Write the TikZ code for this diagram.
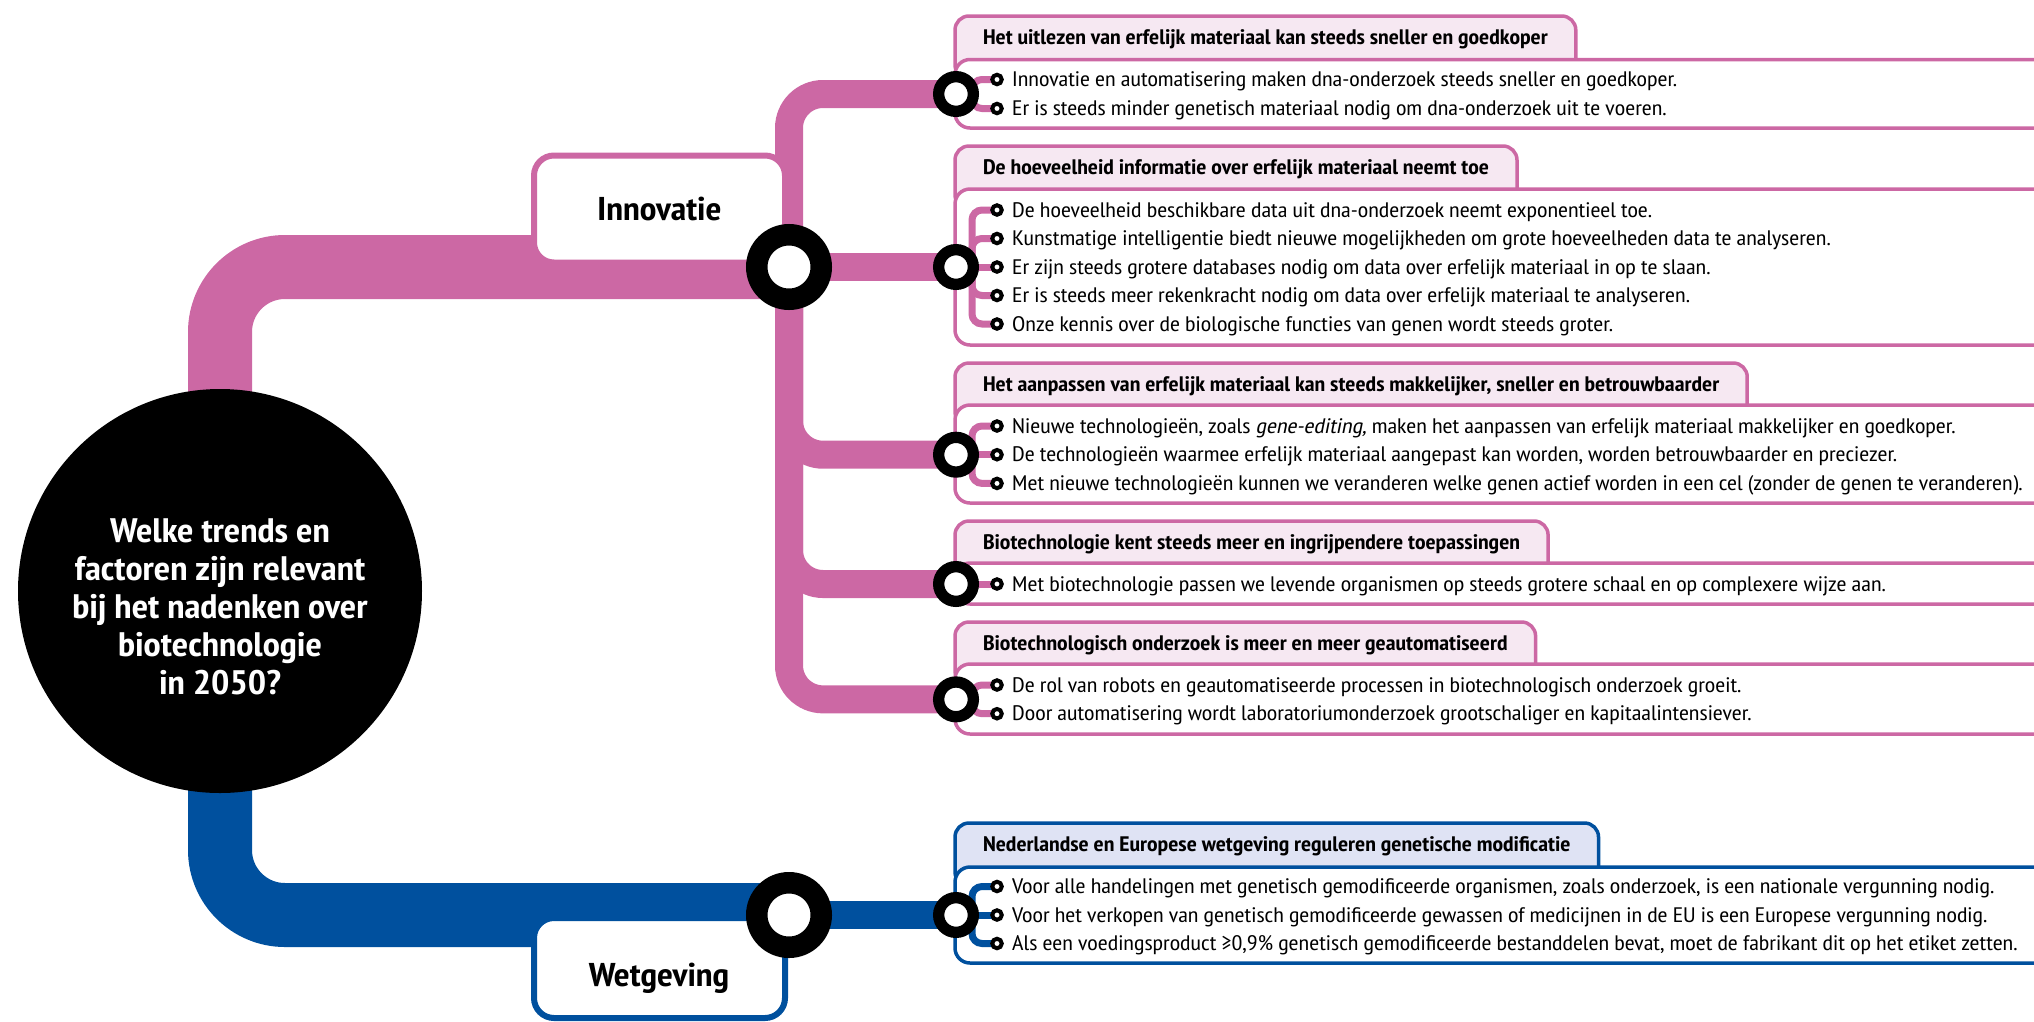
\documentclass[tikz,border=0pt]{standalone}
\usepackage{fontspec}
\setmainfont{PT Sans Narrow}[
  UprightFeatures={FakeStretch=1.15},
  BoldFeatures={FakeStretch=1.13},
  ItalicFont={PT Sans Narrow},ItalicFeatures={FakeSlant=0.2,FakeStretch=1.15}]
\definecolor{pk}{HTML}{CC68A4}
\definecolor{pkl}{HTML}{F6E8F2}
\definecolor{bl}{HTML}{00509E}
\definecolor{bll}{HTML}{DFE3F4}
\pgfdeclarelayer{bars}\pgfdeclarelayer{boxes}\pgfdeclarelayer{arms}
\pgfsetlayers{bars,boxes,arms,main}
\tikzset{
 itemtxt/.style={anchor=base west, inner sep=0pt, font=\fontsize{21}{24}\selectfont},
 hdrbase/.style={anchor=base west, inner xsep=28pt, inner ysep=0pt, outer sep=0pt, line width=3.5pt,
   rounded corners=14pt, text height=28.5pt, text depth=34.5pt, font=\fontsize{21}{24}\selectfont\bfseries},
 hdrP/.style={hdrbase, draw=pk, fill=pkl},
 hdrB/.style={hdrbase, draw=bl, fill=bll},
 bodybase/.style={anchor=north west, inner sep=0pt, outer sep=0pt, line width=3.5pt, rounded corners=15pt,
   minimum width=1200pt, fill=white},
 bodyP/.style={bodybase, draw=pk},
 bodyB/.style={bodybase, draw=bl},
 bigring/.style={circle, draw=black, line width=21.5pt, fill=white, minimum size=64.5pt, inner sep=0pt, outer sep=0pt},
 smallring/.style={circle, draw=black, line width=11.3pt, fill=white, minimum size=34.7pt, inner sep=0pt, outer sep=0pt},
 bullet/.style={circle, draw=black, line width=4pt, fill=white, minimum size=9.5pt, inner sep=0pt, outer sep=0pt},
 catbox/.style={rectangle, rounded corners=20pt, line width=6pt, fill=white, minimum width=251pt, inner sep=0pt, outer sep=0pt},
 catfont/.style={font=\fontsize{33}{36}\selectfont\bfseries},
 armP/.style={draw=pk, line width=7pt, rounded corners=10pt},
 armB/.style={draw=bl, line width=7pt, rounded corners=10pt},
 barP/.style={draw=pk, line width=64pt, rounded corners=65pt},
 barB/.style={draw=bl, line width=64pt, rounded corners=65pt},
 trunkP/.style={draw=pk, line width=28pt, rounded corners=34pt},
 trunkB/.style={draw=bl, line width=28pt, rounded corners=34pt},
}
\begin{document}
\begin{tikzpicture}[x=1pt,y=-1pt]
\useasboundingbox (0,0) rectangle (2034,1021);

% central question
\node[circle, fill=black, minimum size=404pt, inner sep=0pt] (q) at (220,591) {};
\node[text=white, align=center, font=\fontsize{34}{38}\selectfont\bfseries] (qt) at (220,606.5)
  {Welke trends en\\factoren zijn relevant\\bij het nadenken over\\biotechnologie\\in 2050?};

% category boxes
\begin{pgfonlayer}{boxes}
\node[catbox, draw=pk, minimum height=107pt, catfont] (innov) at (659.5,209) {Innovatie};
\node[catbox, draw=bl, minimum height=100pt] (wetbox) at (659.5,968) {};
\end{pgfonlayer}
\node[catfont, anchor=base, inner sep=0pt] (wett) at (659,986) {Wetgeving};

% big rings
\node[bigring] (ri) at (789,267) {};
\node[bigring] (rw) at (789,915) {};

% ---------- Box 1
\begin{pgfonlayer}{boxes}
\node[hdrP] (h1) at (955,44.5) {Het uitlezen van erfelijk materiaal kan steeds sneller en goedkoper};
\node[bodyP, minimum height=68.5pt] (bd1) at (955,59.5) {};
\end{pgfonlayer}
\node[smallring] (c1) at (956,94) {};
\node[bullet] (b11) at (997,79.5) {};
\node[bullet] (b12) at (997,108.5) {};
\node[itemtxt] (t11) at (1012,86.5) {Innovatie en automatisering maken dna-onderzoek steeds sneller en goedkoper.};
\node[itemtxt] (t12) at (1012,115.5) {Er is steeds minder genetisch materiaal nodig om dna-onderzoek uit te voeren.};

% ---------- Box 2
\begin{pgfonlayer}{boxes}
\node[hdrP] (h2) at (955,174.5) {De hoeveelheid informatie over erfelijk materiaal neemt toe};
\node[bodyP, minimum height=156pt] (bd2) at (955,189) {};
\end{pgfonlayer}
\node[smallring] (c2) at (956,267) {};
\node[bullet] (b21) at (997,210) {};
\node[bullet] (b22) at (997,238.5) {};
\node[bullet] (b23) at (997,267) {};
\node[bullet] (b24) at (997,295.5) {};
\node[bullet] (b25) at (997,324) {};
\node[itemtxt] (t21) at (1012,217) {De hoeveelheid beschikbare data uit dna-onderzoek neemt exponentieel toe.};
\node[itemtxt] (t22) at (1012,245.5) {Kunstmatige intelligentie biedt nieuwe mogelijkheden om grote hoeveelheden data te analyseren.};
\node[itemtxt] (t23) at (1012,274) {Er zijn steeds grotere databases nodig om data over erfelijk materiaal in op te slaan.};
\node[itemtxt] (t24) at (1012,302.5) {Er is steeds meer rekenkracht nodig om data over erfelijk materiaal te analyseren.};
\node[itemtxt] (t25) at (1012,331) {Onze kennis over de biologische functies van genen wordt steeds groter.};

% ---------- Box 3
\begin{pgfonlayer}{boxes}
\node[hdrP] (h3) at (955,391.5) {Het aanpassen van erfelijk materiaal kan steeds makkelijker, sneller en betrouwbaarder};
\node[bodyP, minimum height=98pt] (bd3) at (955,405) {};
\end{pgfonlayer}
\node[smallring] (c3) at (956,454.7) {};
\node[bullet] (b31) at (997,426) {};
\node[bullet] (b32) at (997,454.7) {};
\node[bullet] (b33) at (997,483.4) {};
\node[itemtxt] (t31) at (1012,433) {Nieuwe technologieën, zoals \textit{gene-editing,} maken het aanpassen van erfelijk materiaal makkelijker en goedkoper.};
\node[itemtxt] (t32) at (1012,461.7) {De technologieën waarmee erfelijk materiaal aangepast kan worden, worden betrouwbaarder en preciezer.};
\node[itemtxt] (t33) at (1012,490.4) {Met nieuwe technologieën kunnen we veranderen welke genen actief worden in een cel (zonder de genen te veranderen).};

% ---------- Box 4
\begin{pgfonlayer}{boxes}
\node[hdrP] (h4) at (955,549.5) {Biotechnologie kent steeds meer en ingrijpendere toepassingen};
\node[bodyP, minimum height=41pt] (bd4) at (955,563) {};
\end{pgfonlayer}
\node[smallring] (c4) at (956,584) {};
\node[bullet] (b41) at (997,584) {};
\node[itemtxt] (t41) at (1012,591) {Met biotechnologie passen we levende organismen op steeds grotere schaal en op complexere wijze aan.};

% ---------- Box 5
\begin{pgfonlayer}{boxes}
\node[hdrP] (h5) at (955,650.5) {Biotechnologisch onderzoek is meer en meer geautomatiseerd};
\node[bodyP, minimum height=70pt] (bd5) at (955,664) {};
\end{pgfonlayer}
\node[smallring] (c5) at (956,699.35) {};
\node[bullet] (b51) at (997,685) {};
\node[bullet] (b52) at (997,713.7) {};
\node[itemtxt] (t51) at (1012,692) {De rol van robots en geautomatiseerde processen in biotechnologisch onderzoek groeit.};
\node[itemtxt] (t52) at (1012,720.7) {Door automatisering wordt laboratoriumonderzoek grootschaliger en kapitaalintensiever.};

% ---------- Box 6
\begin{pgfonlayer}{boxes}
\node[hdrB] (h6) at (955,851.5) {Nederlandse en Europese wetgeving reguleren genetische modificatie};
\node[bodyB, minimum height=96pt] (bd6) at (955,867) {};
\end{pgfonlayer}
\node[smallring] (c6) at (956,915) {};
\node[bullet] (b61) at (997,886.5) {};
\node[bullet] (b62) at (997,915) {};
\node[bullet] (b63) at (997,943.5) {};
\node[itemtxt] (t61) at (1012,893.5) {Voor alle handelingen met genetisch gemodificeerde organismen, zoals onderzoek, is een nationale vergunning nodig.};
\node[itemtxt] (t62) at (1012,922) {Voor het verkopen van genetisch gemodificeerde gewassen of medicijnen in de EU is een Europese vergunning nodig.};
\node[itemtxt] (t63) at (1012,950.5) {Als een voedingsproduct ≥0,9\% genetisch gemodificeerde bestanddelen bevat, moet de fabrikant dit op het etiket zetten.};

% ---------- bars
\begin{pgfonlayer}{bars}
\draw[barP] (q.center) |- (ri.center);
\draw[barB] (q.center) |- (rw.center);
\draw[trunkP] (c1.center) -| (ri.center) |- (c5.center);
\draw[trunkP] (ri.center) -- (c2.center);
\draw[trunkP] (ri.center) |- (c3.center);
\draw[trunkP] (ri.center) |- (c4.center);
\draw[trunkB] (rw.center) -- (c6.center);
\end{pgfonlayer}

% ---------- arms
\begin{pgfonlayer}{arms}
\draw[armP] (c1.center) -- ++(16,0) |- (b11.center);
\draw[armP] (c1.center) -- ++(16,0) |- (b12.center);
\draw[armP] (c2.center) -- ++(16,0) |- (b21.center);
\draw[armP] (c2.center) -- ++(16,0) |- (b22.center);
\draw[armP] (c2.center) -- (b23.center);
\draw[armP] (c2.center) -- ++(16,0) |- (b24.center);
\draw[armP] (c2.center) -- ++(16,0) |- (b25.center);
\draw[armP] (c3.center) -- ++(16,0) |- (b31.center);
\draw[armP] (c3.center) -- (b32.center);
\draw[armP] (c3.center) -- ++(16,0) |- (b33.center);
\draw[armP] (c4.center) -- (b41.center);
\draw[armP] (c5.center) -- ++(16,0) |- (b51.center);
\draw[armP] (c5.center) -- ++(16,0) |- (b52.center);
\draw[armB] (c6.center) -- ++(16,0) |- (b61.center);
\draw[armB] (c6.center) -- (b62.center);
\draw[armB] (c6.center) -- ++(16,0) |- (b63.center);
\end{pgfonlayer}
\end{tikzpicture}
\end{document}
